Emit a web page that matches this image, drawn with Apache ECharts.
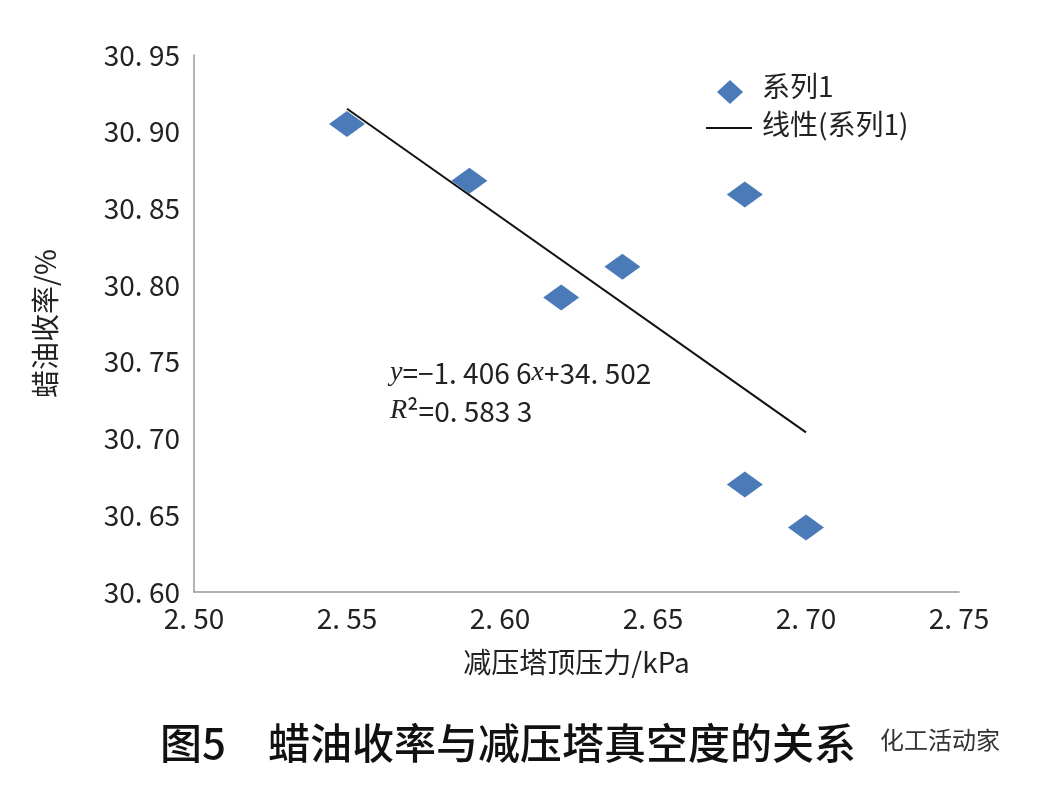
<!DOCTYPE html>
<html>
<head>
<meta charset="utf-8">
<script src="https://cdn.jsdelivr.net/npm/echarts@6/dist/echarts.min.js"></script>
<style>html,body{margin:0;padding:0;background:#fff}#chart{width:1040px;height:788px}</style>
</head>
<body>
<div id="chart"></div>
<script>
// 减压塔顶压力 (kPa) 与 蜡油收率 (%)
var pressure = [2.55, 2.59, 2.62, 2.64, 2.68, 2.68, 2.70];
var yieldPct = [30.905, 30.868, 30.792, 30.812, 30.859, 30.670, 30.642];
// 线性趋势线端点
var trendX = [2.55, 2.70];
var trendY = [30.915, 30.704];

var chart = echarts.init(document.getElementById('chart'));
var font = '"Noto Sans CJK SC", sans-serif';

function fmt(v) {
    return v.toFixed(2).replace('.', '. ');
}

var option = {
    backgroundColor: '#fff',
    animation: false,
    grid: {left: 194, right: 81, top: 55, bottom: 196},
    xAxis: {
        type: 'value', min: 2.50, max: 2.75, interval: 0.05,
        name: '减压塔顶压力/kPa', nameLocation: 'middle', nameGap: 56,
        nameTextStyle: {fontSize: 28, color: '#222', fontFamily: font},
        axisLine: {lineStyle: {color: '#999', width: 1.5}},
        axisTick: {show: false},
        splitLine: {show: false},
        axisLabel: {fontSize: 28, color: '#222', margin: 12, fontFamily: font, formatter: fmt}
    },
    yAxis: {
        type: 'value', min: 30.60, max: 30.95, interval: 0.05,
        name: '蜡油收率/%', nameLocation: 'middle', nameGap: 135,
        nameTextStyle: {fontSize: 28, color: '#222', fontFamily: font},
        axisLine: {show: true, lineStyle: {color: '#999', width: 1.5}},
        axisTick: {show: false},
        splitLine: {show: false},
        axisLabel: {fontSize: 28, color: '#222', margin: 14, fontFamily: font, formatter: fmt}
    },
    series: [{
        name: '系列1', type: 'scatter', symbol: 'diamond', symbolSize: [36, 26],
        itemStyle: {color: '#4a7ab8', opacity: 1},
        data: pressure.map(function (x, i) { return [x, yieldPct[i]]; })
    }, {
        name: '线性(系列1)', type: 'line', symbol: 'none',
        lineStyle: {color: '#111', width: 2},
        data: trendX.map(function (x, i) { return [x, trendY[i]]; })
    }],
    graphic: [
        {type: 'polygon', shape: {points: [[730, 80], [743, 92], [730, 104], [717, 92]]}, style: {fill: '#4a7ab8'}},
        {type: 'text', left: 762, top: 72, style: {text: '系列1', fontSize: 28, fill: '#222', fontFamily: font}},
        {type: 'line', shape: {x1: 706, y1: 128, x2: 752, y2: 128}, style: {stroke: '#111', lineWidth: 2}},
        {type: 'text', left: 762, top: 110, style: {text: '线性(系列1)', fontSize: 28, fill: '#222', fontFamily: font}},
        {type: 'text', left: 390, top: 354, style: {
            text: '{i|y}=−1. 406 6{i|x}+34. 502\n{i|R}²=0. 583 3',
            fontSize: 28, lineHeight: 38, fill: '#222', fontFamily: font,
            rich: {i: {fontStyle: 'italic', fontSize: 28, fontFamily: '"Liberation Serif", serif', fill: '#222'}}
        }},
        {type: 'text', left: 160, top: 722, style: {text: '图5　蜡油收率与减压塔真空度的关系', fontSize: 42, fontWeight: 500, fill: '#111', fontFamily: font}},
        {type: 'text', left: 880, top: 728, style: {text: '化工活动家', fontSize: 24, fill: '#333', fontFamily: font}}
    ]
};
chart.setOption(option);
</script>
</body>
</html>
